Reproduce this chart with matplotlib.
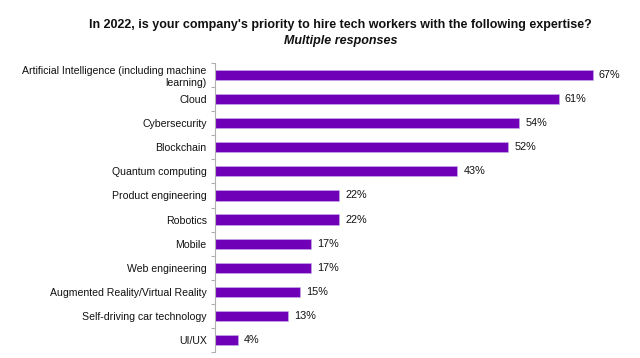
import matplotlib
matplotlib.use("Agg")
import matplotlib.pyplot as plt
import numpy as np

plt.rcParams['font.family'] = ['Liberation Sans', 'DejaVu Sans']

categories = [
    "Artificial Intelligence (including machine\nlearning)",
    "Cloud",
    "Cybersecurity",
    "Blockchain",
    "Quantum computing",
    "Product engineering",
    "Robotics",
    "Mobile",
    "Web engineering",
    "Augmented Reality/Virtual Reality",
    "Self-driving car technology",
    "UI/UX",
]
values = [67, 61, 54, 52, 43, 22, 22, 17, 17, 15, 13, 4]

fig = plt.figure(figsize=(6.4, 3.58), dpi=100)
ax = fig.add_axes([215/640, 1 - 352/358, (632-215)/640, (352-63)/358])

y = np.arange(len(categories))
ax.barh(y, values, height=0.42, color='#7000B8', edgecolor='#c9b3e6', linewidth=0.4)
ax.set_ylim(len(categories) - 0.5, -0.5)
ax.set_xlim(0, 74)

for yi, v in zip(y, values):
    ax.text(v + 1.1, yi, f"{v}%", va='center', ha='left', fontsize=7.8, color='#111111')

ax.set_yticks(y)
ax.set_yticklabels(categories, fontsize=7.6, color='#111111')
ax.tick_params(axis='y', which='major', length=0, pad=6)
ax.set_yticks(np.arange(-0.5, len(categories) + 0.5, 1), minor=True)
ax.tick_params(axis='y', which='minor', length=3, color='#b0b0b0', width=0.8)
ax.set_xticks([])
for s in ['top', 'right', 'bottom']:
    ax.spines[s].set_visible(False)
ax.spines['left'].set_color('#b0b0b0')
ax.spines['left'].set_linewidth(0.8)

fig.text(0.532, 1 - 25/358, "In 2022, is your company's priority to hire tech workers with the following expertise?",
         ha='center', va='center', fontsize=9, fontweight='bold', color='#111111')
fig.text(0.532, 1 - 41/358, "Multiple responses", ha='center', va='center', fontsize=9,
         fontweight='bold', fontstyle='italic', color='#111111')

fig.savefig("out.png", dpi=100)
